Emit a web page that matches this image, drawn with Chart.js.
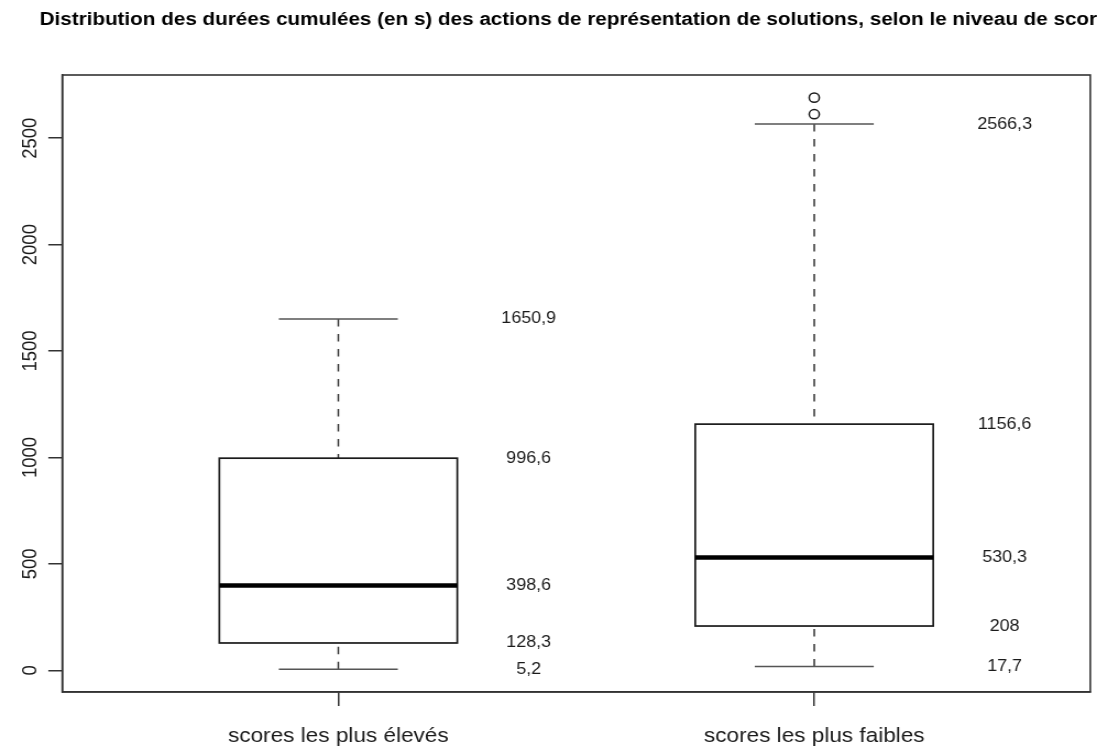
<!DOCTYPE html>
<html><head><meta charset="utf-8">
<script src="https://cdn.jsdelivr.net/npm/chart.js@4.4.1/dist/chart.umd.min.js"></script>
<style>html,body{margin:0;padding:0;background:#fff;overflow:hidden;} canvas{display:block;}</style>
</head><body>
<canvas id="c" width="997" height="747" style="width:1097px;height:747px;"></canvas>
<script>
const titleText = "Distribution des durées cumulées (en s) des actions de représentation de solutions, selon le niveau de score";
const categories = ["scores les plus élevés", "scores les plus faibles"];
const whiskerLow = [5.2, 17.7];
const q1 = [128.3, 208];
const median = [398.6, 530.3];
const q3 = [996.6, 1156.6];
const whiskerHigh = [1650.9, 2566.3];
const outliers = [[], [2612.7, 2690.6]];
const yTicks = [0, 500, 1000, 1500, 2000, 2500];

const FONT = '"Liberation Sans", Arial, Helvetica, sans-serif';
const INK = '#1a1a1a';
const fmt = v => String(v).replace('.', ',');

const outlierPoints = [];
outliers.forEach((arr, i) => arr.forEach(v => outlierPoints.push({x: i + 1, y: v})));

const boxPlugin = {
  id: 'boxPlugin',
  beforeDatasetsDraw(chart) {
    const ctx = chart.ctx, xs = chart.scales.x, ys = chart.scales.y;
    ctx.save();
    categories.forEach((c, i) => {
      const cx = xs.getPixelForValue(i + 1);
      const bl = xs.getPixelForValue(i + 1 - 0.25), br = xs.getPixelForValue(i + 1 + 0.25);
      const cl = xs.getPixelForValue(i + 1 - 0.125), cr = xs.getPixelForValue(i + 1 + 0.125);
      const yq1 = ys.getPixelForValue(q1[i]), yq3 = ys.getPixelForValue(q3[i]);
      const ym = ys.getPixelForValue(median[i]);
      const ylo = ys.getPixelForValue(whiskerLow[i]), yhi = ys.getPixelForValue(whiskerHigh[i]);
      // whiskers (dashed), drawn from the whisker end toward the box
      ctx.strokeStyle = '#333';
      ctx.lineWidth = 1.5;
      ctx.setLineDash([7.5, 7.5]);
      ctx.beginPath();
      ctx.moveTo(cx, yhi); ctx.lineTo(cx, yq3);
      ctx.stroke();
      ctx.beginPath();
      ctx.moveTo(cx, ylo); ctx.lineTo(cx, yq1);
      ctx.stroke();
      ctx.setLineDash([]);
      // caps
      ctx.strokeStyle = '#555';
      ctx.beginPath();
      ctx.moveTo(cl, yhi); ctx.lineTo(cr, yhi);
      ctx.moveTo(cl, ylo); ctx.lineTo(cr, ylo);
      ctx.stroke();
      // box
      ctx.fillStyle = '#fff';
      ctx.fillRect(bl, yq3, br - bl, yq1 - yq3);
      ctx.strokeStyle = INK;
      ctx.lineWidth = 1.7;
      ctx.strokeRect(bl, yq3, br - bl, yq1 - yq3);
      // median
      ctx.lineWidth = 4.5;
      ctx.strokeStyle = '#000';
      ctx.beginPath();
      ctx.moveTo(bl, ym); ctx.lineTo(br, ym);
      ctx.stroke();
      // value annotations
      ctx.fillStyle = INK;
      ctx.font = '16.3px ' + FONT;
      ctx.textAlign = 'center';
      ctx.textBaseline = 'middle';
      const lx = xs.getPixelForValue(i + 1 + 0.4);
      [whiskerHigh[i], q3[i], median[i], q1[i], whiskerLow[i]].forEach(v => {
        ctx.fillText(fmt(v), lx, ys.getPixelForValue(v));
      });
    });
    ctx.restore();
  },
  afterDraw(chart) {
    const ctx = chart.ctx, ca = chart.chartArea;
    ctx.save();
    ctx.strokeStyle = '#333';
    ctx.lineWidth = 1.6;
    ctx.strokeRect(ca.left, ca.top, ca.right - ca.left, ca.bottom - ca.top);
    ctx.fillStyle = '#000';
    ctx.font = 'bold 18.8px ' + FONT;
    ctx.textAlign = 'center';
    ctx.textBaseline = 'middle';
    ctx.fillText(titleText, (ca.left + ca.right) / 2 - 2, 20);
    ctx.restore();
  }
};

new Chart(document.getElementById('c'), {
  type: 'scatter',
  data: {
    datasets: [{
      label: 'outliers',
      data: outlierPoints,
      pointStyle: 'circle',
      pointRadius: 4.6,
      pointBorderWidth: 1.5,
      pointBorderColor: INK,
      pointBackgroundColor: 'rgba(0,0,0,0)',
      showLine: false
    }]
  },
  options: {
    responsive: false,
    animation: false,
    events: [],
    layout: {padding: {left: 0, right: 0.9, top: 75, bottom: 0}},
    plugins: {legend: {display: false}, title: {display: false}, tooltip: {enabled: false}},
    scales: {
      x: {
        type: 'linear', position: 'bottom', min: 0.42, max: 2.58,
        afterBuildTicks: s => { s.ticks = categories.map((c, i) => ({value: i + 1})); },
        afterFit: s => { s.height = 55; },
        grid: {display: true, drawOnChartArea: false, drawTicks: true, tickLength: 14, color: '#333', lineWidth: 1.5},
        border: {display: true, color: '#333', width: 1.5},
        ticks: {
          autoSkip: false, maxRotation: 0, minRotation: 0, padding: 18,
          color: INK, font: {family: FONT, size: 20.5},
          callback: v => categories[v - 1]
        }
      },
      y: {
        type: 'linear', position: 'left', min: -102, max: 2797,
        afterBuildTicks: s => { s.ticks = yTicks.map(v => ({value: v})); },
        afterFit: s => { s.width = 56.6; },
        grid: {display: true, drawOnChartArea: false, drawTicks: true, tickLength: 12.7, color: '#333', lineWidth: 1.5},
        border: {display: true, color: '#333', width: 1.5},
        ticks: {
          autoSkip: false, minRotation: 90, maxRotation: 90, crossAlign: 'center', padding: -5,
          color: INK, font: {family: FONT, size: 18.5},
          callback: v => String(v)
        }
      }
    }
  },
  plugins: [boxPlugin]
});
</script>
</body></html>
